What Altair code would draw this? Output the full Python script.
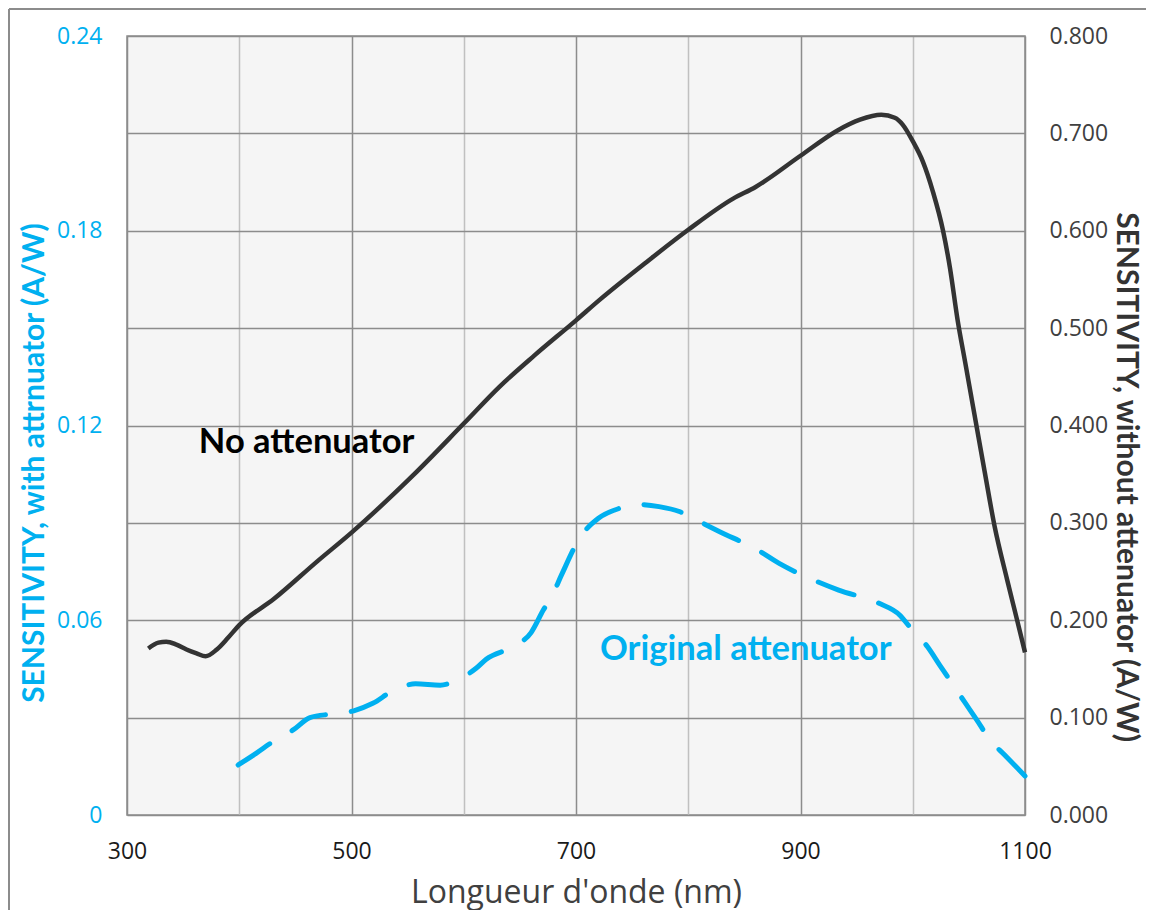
import altair as alt
import pandas as pd

# ---------------- data ----------------
black_nm = [319, 328, 335, 344, 353, 362, 370, 380, 390, 400, 431, 470, 500, 555, 600,
            632, 663, 700, 721, 763, 800, 840, 860, 900, 933, 953, 972, 984, 991, 1000,
            1009, 1018, 1027, 1033, 1040, 1047, 1053, 1064, 1073, 1084, 1093, 1100]
black_sens = [0.171, 0.177, 0.178, 0.175, 0.170, 0.166, 0.163, 0.170, 0.182, 0.195, 0.222,
              0.261, 0.290, 0.349, 0.402, 0.440, 0.472, 0.508, 0.529, 0.568, 0.601, 0.633,
              0.645, 0.677, 0.703, 0.714, 0.719, 0.716, 0.709, 0.692, 0.671, 0.640, 0.600,
              0.563, 0.508, 0.463, 0.424, 0.353, 0.296, 0.242, 0.200, 0.167]

blue_nm = [399, 415, 430, 448, 463, 482, 502, 519, 537, 557, 579, 594, 611, 620, 644, 660,
           671, 679, 687, 704, 720, 739, 754, 774, 792, 810, 828, 862, 881, 913, 934, 970,
           989, 996, 1013, 1024, 1046, 1057, 1070, 1081, 1100]
blue_sens = [0.0154, 0.0190, 0.0226, 0.0262, 0.0300, 0.0311, 0.0321, 0.0344, 0.0383, 0.0404,
             0.0400, 0.0416, 0.0452, 0.0480, 0.0519, 0.0562, 0.0632, 0.0678, 0.0739, 0.0857,
             0.0914, 0.0945, 0.0957, 0.0950, 0.0935, 0.0904, 0.0873, 0.0816, 0.0775, 0.0722,
             0.0693, 0.0652, 0.0614, 0.0585, 0.0519, 0.0462, 0.0349, 0.0293, 0.0226, 0.0188,
             0.0120]

x_ticks = [300, 400, 500, 600, 700, 800, 900, 1000, 1100]
left_ticks = [0, 0.06, 0.12, 0.18, 0.24]
right_ticks = [0.0, 0.1, 0.2, 0.3, 0.4, 0.5, 0.6, 0.7, 0.8]

black_label = ["No attenuator"]
black_label_nm = [364]
black_label_sens = [0.3715]

blue_label = ["Original attenuator"]
blue_label_nm = [721.4]
blue_label_sens = [0.0478]

x_title = "Longueur d'onde (nm)"
left_title = "SENSITIVITY, with attrnuator (A/W)"
right_title = "SENSITIVITY, without attenuator (A/W)"

# ---------------- styling ----------------
BLUE = "#00B0F0"
DARK = "#333333"
GRID_DARK = "#8c8c8c"
GRID_LIGHT = "#c0c0c0"
TICK_FONT = "Open Sans"
BOLD_FONT = "Lato"

df_black = pd.DataFrame({"nm": black_nm, "sens": black_sens})
df_blue = pd.DataFrame({"nm": blue_nm, "sens": blue_sens})
df_black_lab = pd.DataFrame({"nm": black_label_nm, "sens": black_label_sens, "label": black_label})
df_blue_lab = pd.DataFrame({"nm": blue_label_nm, "sens": blue_label_sens, "label": blue_label})

x_scale = alt.Scale(domain=[300, 1100], nice=False, zero=False)
left_scale = alt.Scale(domain=[0, 0.24], nice=False, zero=True)
right_scale = alt.Scale(domain=[0, 0.8], nice=False, zero=True)

x_axis = alt.Axis(
    title=x_title, values=x_ticks, format="d",
    labelExpr="datum.value % 200 == 100 ? datum.label : ''",
    grid=True,
    gridColor={"condition": {"test": "datum.value % 200 == 100", "value": GRID_DARK}, "value": GRID_LIGHT},
    gridWidth=1.5, ticks=False, tickSize=0, domain=False,
    labelFont=TICK_FONT, labelFontSize=23, labelColor="#1a1a1a", labelPadding=25,
    labelFlush=False, labelOverlap=False,
    titleFont=TICK_FONT, titleFontSize=32, titleFontWeight="normal", titleColor="#404040",
    titleY=87, titleBaseline="alphabetic",
)

left_axis = alt.Axis(
    orient="left", title=left_title, values=left_ticks,
    labelExpr="datum.value == 0 ? '0' : format(datum.value, '.2f')",
    grid=False, ticks=False, tickSize=0, domain=False,
    labelFont=TICK_FONT, labelFontSize=23, labelColor=BLUE, labelPadding=25,
    labelFlush=False, labelOverlap=False,
    titleFont=BOLD_FONT, titleFontSize=30, titleFontWeight="bold", titleColor=BLUE,
    titleX=-93, titleY=426.5, titleBaseline="middle", titleAlign="center",
)

right_axis = alt.Axis(
    orient="right", title=right_title, values=right_ticks, format=".3f",
    grid=True, gridColor=GRID_DARK, gridWidth=1.5, ticks=False, tickSize=0, domain=False,
    labelFont=TICK_FONT, labelFontSize=23, labelColor="#404040", labelPadding=24,
    labelFlush=False, labelOverlap=False,
    titleFont=BOLD_FONT, titleFontSize=30, titleFontWeight="bold", titleColor=DARK,
    titleX=100, titleY=440.5, titleBaseline="middle", titleAlign="center",
)

blue_line = alt.Chart(df_blue).mark_line(
    color=BLUE, strokeWidth=5, strokeDash=[38, 26], strokeCap="round", interpolate="monotone"
).encode(
    x=alt.X("nm:Q", scale=x_scale, axis=x_axis),
    y=alt.Y("sens:Q", scale=left_scale, axis=left_axis),
)

blue_text = alt.Chart(df_blue_lab).mark_text(
    align="left", baseline="alphabetic", font=BOLD_FONT, fontSize=34.5, fontWeight="bold", color=BLUE
).encode(
    x=alt.X("nm:Q", scale=x_scale),
    y=alt.Y("sens:Q", scale=left_scale),
    text="label:N",
)

black_line = alt.Chart(df_black).mark_line(
    color=DARK, strokeWidth=4.5, interpolate="monotone"
).encode(
    x=alt.X("nm:Q", scale=x_scale),
    y=alt.Y("sens:Q", scale=right_scale, axis=right_axis),
)

black_text = alt.Chart(df_black_lab).mark_text(
    align="left", baseline="alphabetic", font=BOLD_FONT, fontSize=34.5, fontWeight="bold", color="#000000"
).encode(
    x=alt.X("nm:Q", scale=x_scale),
    y=alt.Y("sens:Q", scale=right_scale),
    text="label:N",
)

frame_df = pd.DataFrame({"a": [0]})
frame_left = alt.Chart(frame_df).mark_rule(color=GRID_DARK, strokeWidth=2, clip=False).encode(
    x=alt.value(-118), y=alt.value(-27), y2=alt.value(874)
)
frame_top = alt.Chart(frame_df).mark_rule(color=GRID_DARK, strokeWidth=2, clip=False).encode(
    x=alt.value(-118), x2=alt.value(1019), y=alt.value(-27)
)

left_layer = alt.layer(blue_line, blue_text)
right_layer = alt.layer(black_line, black_text)

chart = alt.layer(left_layer, right_layer, frame_left, frame_top).resolve_scale(
    y="independent"
).properties(
    width=898, height=779,
    autosize=alt.AutoSizeParams(type="none"),
    padding={"left": 119, "top": 28, "right": 121, "bottom": 95},
    background="white",
).configure_view(
    stroke=GRID_DARK, strokeWidth=1.5, fill="#f5f5f5"
)

chart.save("out.html", embed_options={"renderer": "svg", "actions": False})
